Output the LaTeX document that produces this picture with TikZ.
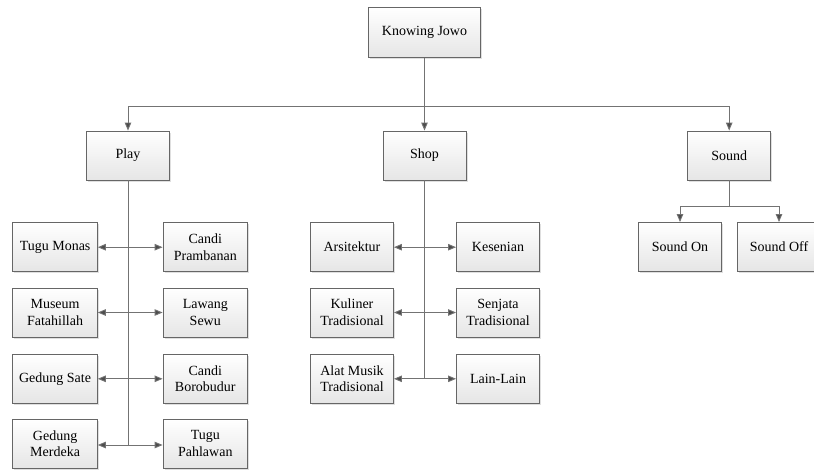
\documentclass[tikz,border=0pt]{standalone}
\usepackage{fontspec}
\setmainfont{Liberation Serif}
\usetikzlibrary{arrows.meta,shadows}
\begin{document}
\begin{tikzpicture}[x=1pt,y=-1pt,
  box/.style={draw=black!60, line width=0.9pt, top color=white, bottom color=black!10,
    drop shadow={shadow xshift=1.5pt, shadow yshift=-1.5pt, opacity=0.25, fill=black!50},
    minimum width=83pt, minimum height=49pt, inner sep=1pt, align=center,
    font=\fontsize{14}{16.7}\selectfont},
  conn/.style={draw=black!55, line width=0.9pt},
  arr/.style={conn, -{Triangle[length=8pt,width=6.5pt,fill=black!70]}},
  biarr/.style={conn, {Triangle[length=8pt,width=6.5pt,fill=black!70]}-{Triangle[length=8pt,width=6.5pt,fill=black!70]}}
]
\useasboundingbox (0,0) rectangle (814,469);
\fill[white] (0,0) rectangle (814,469);

% top level
\node[box, minimum width=112pt, minimum height=50pt] (kj) at (424.5,32.3) {Knowing Jowo};
\node[box] (play) at (128,155.5) {Play};
\node[box] (shop) at (424.5,155.5) {Shop};
\node[box] (sound) at (729.2,155.5) {Sound};

% play children
\node[box, minimum width=84.5pt] (tm) at (55.1,247.2) {Tugu Monas};
\node[box, minimum width=84.5pt] (cp) at (205.3,247.2) {Candi\\Prambanan};
\node[box, minimum width=84.5pt] (mf) at (55.1,312.5) {Museum\\Fatahillah};
\node[box, minimum width=84.5pt] (ls) at (205.3,312.5) {Lawang\\Sewu};
\node[box, minimum width=84.5pt] (gs) at (55.1,378.8) {Gedung Sate};
\node[box, minimum width=84.5pt] (cb) at (205.3,378.8) {Candi\\Borobudur};
\node[box, minimum width=84.5pt] (gm) at (55.1,443.8) {Gedung\\Merdeka};
\node[box, minimum width=84.5pt] (tp) at (205.3,443.8) {Tugu\\Pahlawan};

% shop children
\node[box] (ar) at (352,247.2) {Arsitektur};
\node[box] (ks) at (498,247.2) {Kesenian};
\node[box] (kt) at (352,312.5) {Kuliner\\Tradisional};
\node[box] (st) at (498,312.5) {Senjata\\Tradisional};
\node[box] (am) at (352,378.8) {Alat Musik\\Tradisional};
\node[box] (ll) at (498,378.8) {Lain-Lain};

% sound children
\node[box] (son) at (680,247) {Sound On};
\node[box] (soff) at (779,247) {Sound Off};

% connectors top
\coordinate (bus) at (424.5,106);
\draw[conn] (kj.south) -- (bus);
\draw[arr] (bus) -| (play.north);
\draw[arr] (bus) -| (sound.north);
\draw[arr] (bus) -- (shop.north);

% sound split
\coordinate (sbus) at (729.2,206);
\draw[conn] (sound.south) -- (sbus);
\draw[arr] (sbus) -| (son.north);
\draw[arr] (sbus) -| (soff.north);

% play spine
\coordinate (pend) at (128,445);
\draw[conn] (play.south) -- (pend);
\draw[biarr] (tm.east) -- (cp.west);
\draw[biarr] (mf.east) -- (ls.west);
\draw[biarr] (gs.east) -- (cb.west);
\draw[biarr] (gm.east |- pend) -- (tp.west |- pend);

% shop spine
\coordinate (send) at (424.5,379);
\draw[conn] (shop.south) -- (send);
\draw[biarr] (ar.east) -- (ks.west);
\draw[biarr] (kt.east) -- (st.west);
\draw[biarr] (am.east) -- (ll.west);
\end{tikzpicture}
\end{document}
